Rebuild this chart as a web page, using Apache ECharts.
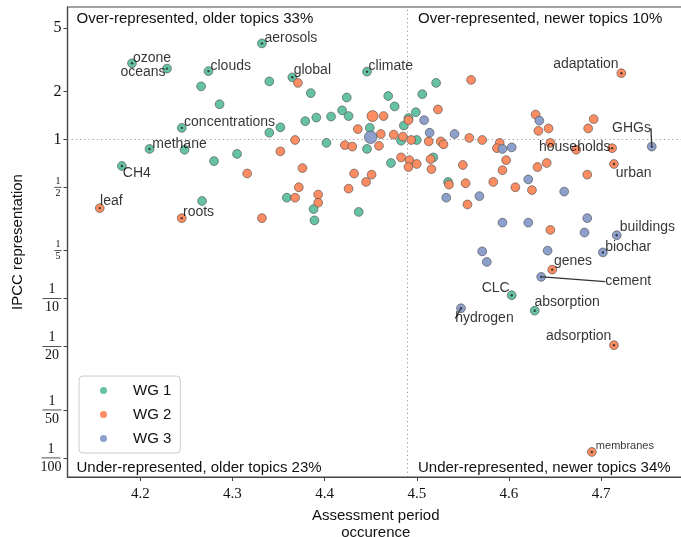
<!DOCTYPE html>
<html>
<head>
<meta charset="utf-8">
<script src="https://cdn.jsdelivr.net/npm/echarts@6/dist/echarts.min.js"></script>
<style>
  html, body { margin: 0; padding: 0; background: #fff; }
  #chart { width: 681px; height: 537px; }
</style>
</head>
<body>
<div id="chart"></div>
<script>
// WG 1 points (x = assessment period occurence, y = IPCC representation)
const wg1X = [4.332, 4.191, 4.229, 4.274, 4.365, 4.446, 4.245, 4.210, 4.180, 4.603, 4.628,
  4.340, 4.266, 4.385, 4.424, 4.286, 4.419, 4.426, 4.407, 4.391, 4.379, 4.352, 4.449, 4.340,
  4.248, 4.402, 4.446, 4.305, 4.280, 4.359, 4.267, 4.388, 4.437, 4.389, 4.521, 4.469, 4.506,
  4.476, 4.499, 4.491, 4.486, 4.483, 4.500, 4.472, 4.518, 4.534]
const wg1Y = [4.0, 3.0, 2.78, 2.68, 2.45, 2.66, 1.18, 0.87, 0.68, 0.105, 0.084,
  2.31, 2.15, 1.95, 1.83, 1.66, 1.52, 1.40, 1.39, 1.37, 1.30, 1.19, 1.18, 1.10,
  0.86, 0.95, 0.87, 0.81, 0.73, 0.43, 0.41, 0.365, 0.35, 0.31, 2.26, 1.87, 1.92,
  1.61, 1.48, 1.36, 1.22, 0.98, 0.99, 0.71, 0.77, 0.54]
const wg1Names = {0: 'aerosols', 1: 'ozone', 2: 'oceans', 3: 'clouds', 4: 'global', 5: 'climate',
  6: 'concentrations', 7: 'methane', 8: 'CH4', 9: 'CLC', 10: 'absorption'}

// WG 2 points
const wg2X = [4.156, 4.245, 4.722, 4.712, 4.714, 4.647, 4.714, 4.690, 4.452,
  4.371, 4.464, 4.436, 4.368, 4.422, 4.430, 4.352, 4.316, 4.376, 4.432, 4.451, 4.445, 4.372,
  4.426, 4.393, 4.368, 4.393, 4.332, 4.559, 4.523, 4.491, 4.461, 4.475, 4.485, 4.557, 4.571,
  4.494, 4.513, 4.526, 4.529, 4.459, 4.590, 4.587, 4.483, 4.492, 4.491, 4.500, 4.515, 4.516,
  4.550, 4.597, 4.593, 4.631, 4.641, 4.535, 4.553, 4.583, 4.607, 4.625, 4.555, 4.645, 4.629,
  4.632, 4.643, 4.692, 4.686, 4.645, 4.673, 4.685]
const wg2Y = [0.37, 0.32, 2.60, 0.88, 0.70, 0.152, 0.051, 0.0109, 1.40,
  2.26, 1.40, 1.16, 0.99, 0.92, 0.90, 0.84, 0.61, 0.66, 0.61, 0.60, 0.54, 0.50,
  0.49, 0.45, 0.43, 0.40, 0.32, 2.36, 1.54, 1.32, 1.08, 1.07, 1.04, 1.02, 0.99,
  0.99, 0.97, 0.97, 0.93, 0.91, 0.95, 0.88, 0.77, 0.74, 0.67, 0.70, 0.75, 0.65,
  0.69, 0.74, 0.64, 0.67, 0.71, 0.52, 0.53, 0.54, 0.50, 0.48, 0.39, 0.27, 1.43,
  1.13, 1.17, 1.34, 1.17, 0.95, 0.86, 0.60]
const wg2Names = {0: 'leaf', 1: 'roots', 2: 'adaptation', 3: 'households', 4: 'urban',
  5: 'genes', 6: 'adsorption', 7: 'membranes'}

// WG 3 points
const wg3X = [4.755, 4.717, 4.702, 4.635, 4.548, 4.450,
  4.508, 4.514, 4.541, 4.593, 4.603, 4.633, 4.621, 4.660, 4.532, 4.568, 4.593, 4.621,
  4.685, 4.682, 4.571, 4.642, 4.576]
const wg3Y = [0.90, 0.25, 0.195, 0.137, 0.087, 1.03,
  1.32, 1.10, 1.08, 0.87, 0.89, 1.31, 0.56, 0.47, 0.43, 0.44, 0.30, 0.30,
  0.32, 0.26, 0.198, 0.20, 0.17]
const wg3Names = {0: 'GHGs', 1: 'buildings', 2: 'biochar', 3: 'cement', 4: 'hydrogen'}

const splitX = 4.493
const splitY = 1
const xTicks = [4.2, 4.3, 4.4, 4.5, 4.6, 4.7]
const yTicks = [0.01, 0.02, 0.05, 0.1, 0.2, 0.5, 1, 2, 5]
const yTickLabels = ['1/100', '1/50', '1/20', '1/10', '1/5', '1/2', '1', '2', '5']
const quadrantTexts = ['Over-represented, older topics 33%', 'Over-represented, newer topics 10%',
  'Under-represented, older topics 23%', 'Under-represented, newer topics 34%']

// label placement: [dx, dy, align, guide line end (dx, dy) or true]
const labelPos = {
  aerosols: [2.5, -5, 'left'], ozone: [1, -5, 'left'], oceans: [-1.5, 4, 'right'],
  clouds: [2, -5.3, 'left'], global: [1.3, -7, 'left'], climate: [1.6, -5, 'left'],
  concentrations: [2.3, -5.7, 'left'], methane: [2.7, -5, 'left'], CH4: [1, 7.5, 'left'],
  CLC: [-2, -7, 'right'], absorption: [-0.3, -9, 'left'], leaf: [0.3, -6.5, 'left'],
  roots: [1.2, -6.5, 'left'], adaptation: [-2.7, -9, 'right'], households: [-1.5, -1.5, 'right'],
  urban: [1.8, 9, 'left'], genes: [1.7, -8.7, 'left'], adsorption: [-2.6, -9, 'right'],
  membranes: [4, -5.5, 'left'], GHGs: [-0.8, -18.5, 'right', [-9.5, -10.5]],
  buildings: [3, -8, 'left'], biochar: [2.3, -5, 'left'], cement: [64, 4.7, 'left', [60, 4.7]],
  hydrogen: [-5.7, 10.3, 'left', [5, 3]]
}

const colors = ['#66c2a5', '#fc8d62', '#8da0cb']
const bigMarks = {1: {8: 11}, 2: {5: 12.5}}
const sans = 'Liberation Sans'
const serif = 'Liberation Serif'

function points(xs, ys, g) {
  return xs.map((x, i) => {
    const item = { value: [x, ys[i]] }
    if (bigMarks[g] && bigMarks[g][i]) item.symbolSize = bigMarks[g][i]
    return item
  })
}

const annotated = []
;[[wg1X, wg1Y, wg1Names], [wg2X, wg2Y, wg2Names], [wg3X, wg3Y, wg3Names]].forEach(([xs, ys, names]) => {
  Object.keys(names).forEach(k => {
    const name = names[k]
    const item = { name: name, value: [xs[k], ys[k]] }
    if (labelPos[name][3]) item.labelLine = { show: true }
    if (name === 'membranes') item.label = { fontSize: 11 }
    annotated.push(item)
  })
})

const chart = echarts.init(document.getElementById('chart'))

function yLabel(v) {
  let idx = yTicks.findIndex(t => Math.abs(Math.log10(t) - Math.log10(v)) < 1e-6)
  if (idx < 0) return ''
  const s = yTickLabels[idx]
  if (s.indexOf('/') < 0) return '{n|' + s + '}'
  const den = s.split('/')[1]
  if (den.length === 1) return '{sn|1}\n{sb| }\n{sn|' + den + '}'
  return '{bn|1}\n{bb| }\n{bn|' + den + '}'
}

const scatterBase = {
  type: 'scatter',
  symbolSize: 8.8,
  itemStyle: { borderColor: 'rgba(70,70,70,0.75)', borderWidth: 0.8, opacity: 1 },
  emphasis: { disabled: true }
}

const quadFont = '15px "Liberation Sans"'

const option = {
  backgroundColor: '#fff',
  animation: false,
  grid: {
    left: 67.5, right: -3, top: 7, bottom: 60,
    outerBoundsMode: 'none',
    containLabel: false,
    show: true, borderColor: '#444', borderWidth: 1.2, backgroundColor: 'transparent'
  },
  legend: {
    data: ['WG 1', 'WG 2', 'WG 3'],
    orient: 'vertical',
    left: 79, top: 376,
    padding: [7, 9, 7, 21],
    itemGap: 9,
    itemWidth: 7, itemHeight: 7,
    icon: 'circle',
    itemStyle: { borderWidth: 0 },
    backgroundColor: 'rgba(255,255,255,0.85)',
    borderColor: '#ccc', borderWidth: 1, borderRadius: 4,
    formatter: name => '{gap|}' + name,
    textStyle: {
      fontFamily: sans, fontSize: 15, color: '#111',
      rich: { gap: { width: 21 } }
    }
  },
  xAxis: {
    type: 'value',
    min: 4.121, max: 4.79,
    name: 'Assessment period\noccurence',
    nameLocation: 'middle',
    nameGap: 29,
    nameTextStyle: { fontFamily: sans, fontSize: 15, color: '#111', lineHeight: 17 },
    axisLine: { show: true, onZero: false, lineStyle: { color: '#444', width: 1.2 } },
    axisTick: { show: true, customValues: xTicks, length: 4, lineStyle: { color: '#444' } },
    axisLabel: {
      customValues: xTicks, margin: 10,
      fontFamily: serif, fontSize: 15, color: '#111',
      formatter: v => v.toFixed(1)
    },
    splitLine: { show: false }
  },
  yAxis: {
    type: 'log',
    logBase: 10,
    min: 0.00759, max: 6.77,
    name: 'IPCC representation',
    nameLocation: 'middle',
    nameGap: 42,
    nameTextStyle: { fontFamily: sans, fontSize: 15, color: '#111' },
    axisLine: { show: true, onZero: false, lineStyle: { color: '#444', width: 1.2 } },
    axisTick: { show: true, customValues: yTicks, length: 4, lineStyle: { color: '#444' } },
    axisLabel: {
      customValues: yTicks, margin: 6,
      formatter: yLabel,
      rich: {
        n: { fontFamily: serif, fontSize: 16, color: '#111' },
        sn: { fontFamily: serif, fontSize: 10, lineHeight: 8, color: '#111', align: 'center' },
        sb: { width: 7, height: 0.8, lineHeight: 4, backgroundColor: '#222', align: 'center' },
        bn: { fontFamily: serif, fontSize: 14, lineHeight: 13, color: '#111', align: 'center' },
        bb: { width: 19, height: 0.8, lineHeight: 5, backgroundColor: '#222', align: 'center' }
      }
    },
    splitLine: { show: false }
  },
  graphic: [
    { type: 'text', left: 76.5, top: 11, style: { text: quadrantTexts[0], font: quadFont, fill: '#111' } },
    { type: 'text', left: 418, top: 11, style: { text: quadrantTexts[1], font: quadFont, fill: '#111' } },
    { type: 'text', left: 76.5, top: 460, style: { text: quadrantTexts[2], font: quadFont, fill: '#111' } },
    { type: 'text', left: 418, top: 460, style: { text: quadrantTexts[3], font: quadFont, fill: '#111' } }
  ],
  series: [
    Object.assign({}, scatterBase, {
      name: 'WG 1', data: points(wg1X, wg1Y, 0), itemStyle: Object.assign({}, scatterBase.itemStyle, { color: colors[0] }),
      z: 3,
      markLine: {
        silent: true, symbol: 'none', label: { show: false },
        lineStyle: { type: [1.2, 3], color: '#999', width: 1 },
        data: [{ xAxis: splitX }, { yAxis: splitY }],
        z: 1
      }
    }),
    Object.assign({}, scatterBase, {
      name: 'WG 2', data: points(wg2X, wg2Y, 1), itemStyle: Object.assign({}, scatterBase.itemStyle, { color: colors[1] }), z: 4
    }),
    Object.assign({}, scatterBase, {
      name: 'WG 3', data: points(wg3X, wg3Y, 2), itemStyle: Object.assign({}, scatterBase.itemStyle, { color: colors[2] }), z: 5
    }),
    {
      name: 'labels',
      type: 'scatter',
      symbolSize: 2.4,
      itemStyle: { color: '#222' },
      z: 6,
      emphasis: { disabled: true },
      data: annotated,
      label: {
        show: true, position: 'inside', formatter: '{b}',
        fontFamily: sans, fontSize: 14, color: '#000'
      },
      labelLine: { show: false, lineStyle: { color: '#333', width: 1.3 } },
      labelLayout: function (p) {
        const s = labelPos[annotated[p.dataIndex].name]
        const cx = p.rect.x + p.rect.width / 2
        const cy = p.rect.y + p.rect.height / 2
        const out = { x: cx + s[0], y: cy + s[1], align: s[2], verticalAlign: 'middle' }
        if (Array.isArray(s[3])) {
          const ex = cx + s[3][0], ey = cy + s[3][1]
          out.labelLinePoints = [[cx, cy], [(cx + ex) / 2, (cy + ey) / 2], [ex, ey]]
        }
        return out
      }
    }
  ]
}

chart.setOption(option)
</script>
</body>
</html>
